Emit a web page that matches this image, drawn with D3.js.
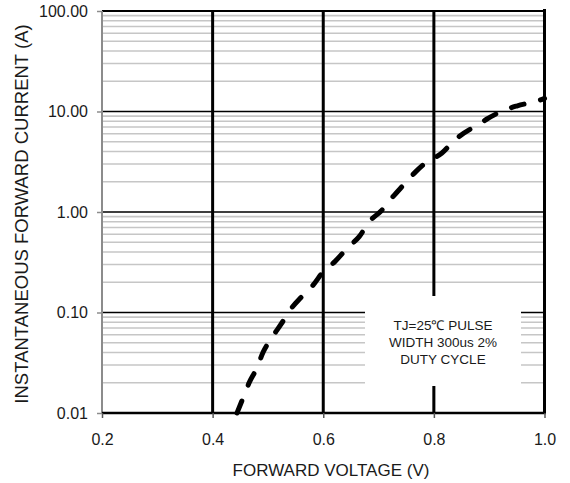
<!DOCTYPE html>
<html><head><meta charset="utf-8">
<script src="https://cdn.jsdelivr.net/npm/d3@7"></script>
<style>body{margin:0;background:#fff} svg{display:block} text{font-family:"Liberation Sans",Arial,Helvetica,sans-serif}</style>
</head><body><svg id="c" width="570" height="483"></svg>
<script>
// ---- data ----
const voltage = [0.444, 0.459, 0.466, 0.480, 0.491, 0.507, 0.524, 0.540, 0.561, 0.582, 0.600, 0.621, 0.645, 0.665, 0.683, 0.705, 0.726, 0.744, 0.766, 0.789, 0.814, 0.832, 0.844, 0.881, 0.896, 0.933, 0.951, 0.992, 1.000];
const current = [0.010, 0.016, 0.020, 0.028, 0.040, 0.056, 0.077, 0.106, 0.1435, 0.188, 0.255, 0.321, 0.446, 0.568, 0.80, 1.03, 1.42, 1.83, 2.48, 3.2, 3.84, 4.83, 5.54, 7.46, 8.42, 10.6, 11.4, 13.0, 13.5];
const xTicks = [0.2, 0.4, 0.6, 0.8, 1.0];
const xTickLabels = ["0.2", "0.4", "0.6", "0.8", "1.0"];
const yTicks = [0.01, 0.1, 1, 10, 100];
const yTickLabels = ["0.01", "0.10", "1.00", "10.00", "100.00"];
const xTitle = "FORWARD VOLTAGE (V)";
const yTitle = "INSTANTANEOUS FORWARD CURRENT (A)";
const noteLines = ["TJ=25\u2103 PULSE", "WIDTH 300us 2%", "DUTY CYCLE"];

const svg = d3.select("#c");
const x = d3.scaleLinear().domain([0.2, 1.0]).range([102, 544.5]);
const y = d3.scaleLog().domain([0.01, 100]).range([413, 11]);
const pLeft = x.range()[0], pRight = x.range()[1], pTop = y.range()[1], pBottom = y.range()[0];

// minor horizontal grid
const isDecade = v => Math.abs(Math.log10(v) - Math.round(Math.log10(v))) < 1e-6;
const minor = y.ticks().filter(v => !isDecade(v));
svg.append("g").selectAll("line").data(minor).join("line")
  .attr("x1", pLeft + 1).attr("x2", pRight)
  .attr("y1", d => y(d)).attr("y2", d => y(d))
  .attr("stroke", "#c6c6c6").attr("stroke-width", 1.6);

// major horizontal grid
svg.append("g").selectAll("line").data(yTicks.filter(v => v > 0.01)).join("line")
  .attr("x1", pLeft).attr("x2", pRight + 1)
  .attr("y1", d => y(d)).attr("y2", d => y(d))
  .attr("stroke", "#000").attr("stroke-width", d => d === 100 ? 2 : 1.6);

// vertical grid
svg.append("g").selectAll("line").data(xTicks.filter(v => v > 0.2)).join("line")
  .attr("x1", d => x(d)).attr("x2", d => x(d))
  .attr("y1", d => d === 1.0 ? pTop - 2 : pTop).attr("y2", pBottom)
  .attr("stroke", "#000").attr("stroke-width", 3);

// left axis line
svg.append("line").attr("x1", pLeft).attr("x2", pLeft).attr("y1", pTop).attr("y2", pBottom)
  .attr("stroke", "#8c8c8c").attr("stroke-width", 2);

// annotation box (covers grid)
svg.append("rect").attr("x", 365).attr("y", 296).attr("width", 156).attr("height", 90).attr("fill", "#fff");
// thin part of the 0.8 line below the box
svg.append("line").attr("x1", x(0.8)).attr("x2", x(0.8)).attr("y1", 386).attr("y2", pBottom)
  .attr("stroke", "#000").attr("stroke-width", 2);
svg.append("g").selectAll("text").data(noteLines).join("text")
  .attr("x", 443).attr("y", (d, i) => 329.5 + i * 17)
  .attr("text-anchor", "middle").attr("font-size", 13.5).attr("fill", "#1a1a1a")
  .text(d => d);

// bottom axis line
svg.append("line").attr("x1", pLeft).attr("x2", pRight + 1.5).attr("y1", pBottom).attr("y2", pBottom)
  .attr("stroke", "#000").attr("stroke-width", 2.5);

// axes (ticks + labels)
const gx = svg.append("g").attr("transform", `translate(0,${pBottom})`)
  .call(d3.axisBottom(x).tickValues(xTicks).tickFormat((d, i) => xTickLabels[i]).tickSize(5).tickPadding(16));
gx.select(".domain").remove();
gx.selectAll(".tick line").attr("stroke", "#555").attr("stroke-width", 1.5);
gx.selectAll("text").attr("font-size", 16).attr("fill", "#1a1a1a");
gx.attr("font-family", null).attr("font-size", null);

const gy = svg.append("g").attr("transform", `translate(${pLeft},0)`)
  .call(d3.axisLeft(y).tickValues(yTicks).tickFormat((d, i) => yTickLabels[i]).tickSize(5).tickPadding(9));
gy.select(".domain").remove();
gy.selectAll(".tick line").attr("stroke", "#8c8c8c").attr("stroke-width", 1.5);
gy.selectAll("text").attr("font-size", 16).attr("fill", "#1a1a1a");
gy.attr("font-family", null).attr("font-size", null);

// curve
const line = d3.line().x((d, i) => x(voltage[i])).y((d, i) => y(current[i])).curve(d3.curveMonotoneX);
svg.append("path").datum(voltage).attr("d", line)
  .attr("fill", "none").attr("stroke", "#000").attr("stroke-width", 5)
  .attr("stroke-linecap", "round").attr("stroke-dasharray", "13,17");

// titles
svg.append("text").attr("x", 331).attr("y", 476).attr("text-anchor", "middle")
  .attr("font-size", 17).attr("fill", "#1a1a1a").text(xTitle);
svg.append("text").attr("transform", "translate(28,214) rotate(-90)").attr("text-anchor", "middle")
  .attr("font-size", 18.5).attr("fill", "#1a1a1a").text(yTitle);
</script></body></html>
